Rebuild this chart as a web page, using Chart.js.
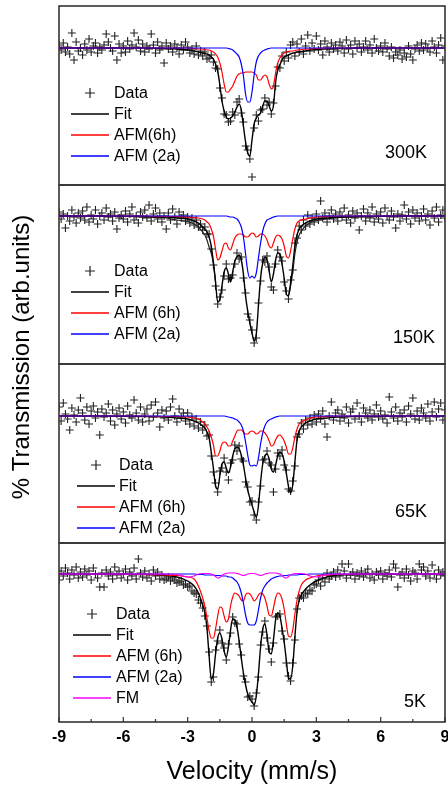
<!DOCTYPE html>
<html>
<head>
<meta charset="utf-8">
<script src="https://cdn.jsdelivr.net/npm/chart.js@4.4.1/dist/chart.umd.min.js"></script>
<style>
  html, body { margin: 0; padding: 0; background: #fff; }
  canvas { display: block; }
</style>
</head>
<body>
<canvas id="mossbauer" width="448" height="788"></canvas>
<script>
// ===== Velocity channels (mm/s) =====
const dataV = [
  -9.0, -8.9, -8.8, -8.7, -8.6, -8.5, -8.4, -8.3, -8.2, -8.1,
  -8.0, -7.9, -7.8, -7.7, -7.6, -7.5, -7.4, -7.3, -7.2, -7.1,
  -7.0, -6.9, -6.8, -6.7, -6.6, -6.5, -6.4, -6.3, -6.2, -6.1,
  -6.0, -5.9, -5.8, -5.7, -5.6, -5.5, -5.4, -5.3, -5.2, -5.1,
  -5.0, -4.9, -4.8, -4.7, -4.6, -4.5, -4.4, -4.3, -4.2, -4.1,
  -4.0, -3.9, -3.8, -3.7, -3.6, -3.5, -3.4, -3.3, -3.2, -3.1,
  -3.0, -2.9, -2.8, -2.7, -2.6, -2.5, -2.4, -2.3, -2.2, -2.1,
  -2.0, -1.9, -1.8, -1.7, -1.6, -1.5, -1.4, -1.3, -1.2, -1.1,
  -1.0, -0.9, -0.8, -0.7, -0.6, -0.5, -0.4, -0.3, -0.2, -0.1,
  0.0, 0.1, 0.2, 0.3, 0.4, 0.5, 0.6, 0.7, 0.8, 0.9,
  1.0, 1.1, 1.2, 1.3, 1.4, 1.5, 1.6, 1.7, 1.8, 1.9,
  2.0, 2.1, 2.2, 2.3, 2.4, 2.5, 2.6, 2.7, 2.8, 2.9,
  3.0, 3.1, 3.2, 3.3, 3.4, 3.5, 3.6, 3.7, 3.8, 3.9,
  4.0, 4.1, 4.2, 4.3, 4.4, 4.5, 4.6, 4.7, 4.8, 4.9,
  5.0, 5.1, 5.2, 5.3, 5.4, 5.5, 5.6, 5.7, 5.8, 5.9,
  6.0, 6.1, 6.2, 6.3, 6.4, 6.5, 6.6, 6.7, 6.8, 6.9,
  7.0, 7.1, 7.2, 7.3, 7.4, 7.5, 7.6, 7.7, 7.8, 7.9,
  8.0, 8.1, 8.2, 8.3, 8.4, 8.5, 8.6, 8.7, 8.8, 8.9,
  9.0
];

// velocities at which the fitted curves are tabulated
const curveV = [
  -9, -7, -5, -4, -3.5, -3, -2.7, -2.5, -2.3,
  -2.2, -2.1, -2.0, -1.9, -1.8, -1.7, -1.6, -1.5, -1.4, -1.3,
  -1.2, -1.1, -1.0, -0.9, -0.8, -0.7, -0.6, -0.5, -0.4, -0.3,
  -0.2, -0.1, 0, 0.1, 0.2, 0.3, 0.4, 0.5, 0.6, 0.7,
  0.8, 0.9, 1.0, 1.1, 1.2, 1.3, 1.4, 1.5, 1.6, 1.7,
  1.8, 1.9, 2.0, 2.1, 2.2,
  2.3, 2.5, 2.7, 3, 3.5, 4, 5, 7, 9
];

const temps = ['300K', '150K', '65K', '5K'];
const yMin = [86.3, 85.2, 87.3, 85.2];
const yMax = [104.2, 103.1, 105.2, 103.1];
const xTicks = [-9, -6, -3, 0, 3, 6, 9];

// ===== 300K =====
const p1Data = [
  100.3, 99.8, 100.5, 99.6, 100.1, 99.4, 101.5, 98.8, 100.6, 99.7,
  100.0, 99.3, 100.4, 99.8, 100.9, 99.6, 100.2, 100.5, 99.5, 100.1,
  99.8, 100.3, 101.4, 100.6, 100.0, 99.7, 101.2, 98.8, 100.4, 99.5,
  100.2, 99.6, 100.7, 99.9, 100.3, 101.5, 100.1, 100.8, 99.7, 100.4,
  99.6, 100.2, 99.9, 101.4, 100.3, 99.5, 100.6, 99.8, 100.2, 98.5,
  100.5, 99.9, 100.2, 99.6, 100.4, 100.0, 99.4, 100.3, 99.8, 100.6,
  100.1, 99.5, 99.9, 99.4, 100.2, 99.3, 99.7, 99.2, 99.6, 98.9,
  99.0, 99.3, 98.6, 98.0, 97.9, 96.0, 95.0, 93.4, 93.3, 92.6,
  92.7, 93.6, 93.3, 94.6, 94.9, 93.5, 92.6, 90.2, 89.8, 88.9,
  87.1, 92.0, 93.3, 92.7, 93.8, 93.9, 95.0, 94.3, 94.6, 93.4,
  94.5, 96.2, 98.1, 98.0, 99.2, 98.7, 99.6, 99.0, 100.3, 100.6,
  99.2, 100.4, 99.6, 100.9, 99.4, 100.2, 101.3, 99.7, 100.5, 99.9,
  101.2, 99.8, 100.4, 99.3, 100.7, 100.1, 99.6, 100.5, 99.9, 100.3,
  99.7, 100.6, 100.2, 99.5, 100.8, 99.9, 100.3, 99.4, 100.7, 100.0,
  100.4, 99.6, 100.1, 100.7, 99.8, 100.3, 99.5, 100.9, 100.0, 99.7,
  100.2, 99.6, 100.5, 99.9, 99.2, 100.1, 99.0, 99.6, 99.3, 99.8,
  98.9, 99.5, 99.1, 100.2, 99.4, 98.8, 99.9, 100.3, 99.7, 100.5,
  99.8, 100.4, 100.0, 99.6, 100.7, 100.1, 99.5, 100.3, 101.0, 98.8,
  100.2
];
const p1Fit = [
  100, 100, 100, 99.95, 99.9, 99.8, 99.7, 99.6, 99.5,
  99.45, 99.4, 99.3, 99.1, 98.9, 98.4, 97.7, 96.3, 94.7, 93.7,
  93.1, 92.9, 93.0, 93.2, 93.6, 94.1, 94.4, 93.8, 92.2, 90.6,
  89.5, 89.2, 90.8, 92.4, 93.0, 93.3, 93.5, 94.2, 94.7, 94.7,
  94.2, 93.7, 94.2, 96.6, 97.8, 98.3, 98.8, 99.1, 99.2, 99.3,
  99.4, 99.5, 99.5, 99.6, 99.6,
  99.65, 99.7, 99.8, 99.85, 99.9, 99.95, 100, 100, 100
];
const p1Red = [
  100, 100, 100, 100, 100, 100, 99.95, 99.9, 99.9,
  99.85, 99.8, 99.8, 99.7, 99.6, 99.4, 99.1, 98.5, 97.6, 96.4,
  95.6, 95.6, 95.9, 96.2, 96.7, 97.2, 97.4, 97.5, 97.5, 97.6,
  97.6, 97.6, 97.6, 97.5, 97.3, 96.8, 96.8, 97.1, 97.3, 97.1,
  96.4, 95.9, 96.2, 97.5, 98.5, 99.0, 99.3, 99.5, 99.6, 99.65,
  99.7, 99.7, 99.75, 99.8, 99.8,
  99.85, 99.9, 99.9, 99.95, 100, 100, 100, 100, 100
];
const p1Blue = [
  100, 100, 100, 100, 100, 100, 100, 100, 100,
  100, 100, 100, 100, 100, 100, 100, 100, 100, 100,
  100, 99.95, 99.9, 99.8, 99.6, 99.4, 99.1, 98.4, 97.2, 95.4,
  94.6, 94.6, 95.6, 97.3, 98.6, 99.2, 99.5, 99.7, 99.8, 99.9,
  99.95, 100, 100, 100, 100, 100, 100, 100, 100, 100,
  100, 100, 100, 100, 100,
  100, 100, 100, 100, 100, 100, 100, 100, 100
];

// ===== 150K =====
const p2Data = [
  100.4, 99.7, 100.2, 98.8, 100.0, 99.5, 100.6, 99.9, 99.3, 100.3,
  99.8, 100.5, 99.6, 100.9, 99.4, 100.1, 99.7, 100.6, 99.2, 100.0,
  100.3, 99.6, 100.8, 99.9, 100.2, 99.5, 100.4, 98.7, 99.8, 100.1,
  99.7, 100.5, 99.4, 100.2, 100.9, 99.6, 100.0, 99.3, 100.4, 99.9,
  100.6, 99.8, 101.1, 99.5, 100.2, 100.8, 99.7, 100.3, 99.4, 100.0,
  98.7, 100.3, 99.6, 100.7, 99.9, 99.2, 100.4, 99.8, 100.1, 99.5,
  99.9, 99.3, 99.8, 99.1, 99.6, 98.9, 99.2, 98.6, 98.9, 98.2,
  98.2, 96.7, 95.1, 93.0, 91.2, 91.9, 92.6, 94.0, 95.2, 93.7,
  93.8, 94.1, 95.2, 96.3, 95.7, 95.9, 93.8, 92.3, 90.2, 89.6,
  88.6, 87.3, 87.8, 91.3, 93.5, 95.6, 95.4, 96.0, 94.9, 92.9,
  92.6, 95.2, 96.6, 95.9, 95.5, 93.4, 92.5, 91.7, 93.6, 94.6,
  97.3, 97.8, 99.0, 98.6, 99.6, 99.0, 100.1, 99.2, 99.8, 99.4,
  100.2, 99.6, 101.5, 99.8, 100.3, 99.4, 100.0, 100.6, 99.7, 100.2,
  99.5, 100.4, 99.9, 100.8, 99.6, 100.1, 99.3, 100.5, 99.8, 100.3,
  98.6, 100.0, 100.7, 99.5, 100.3, 99.8, 100.9, 99.4, 100.2, 99.7,
  100.4, 99.3, 100.8, 100.0, 99.6, 100.5, 99.9, 98.8, 100.2, 99.5,
  100.1, 101.1, 99.7, 100.4, 99.2, 100.6, 99.8, 100.3, 99.5, 100.0,
  100.7, 99.6, 100.2, 99.1, 100.5, 99.8, 100.9, 99.4, 100.1, 100.6,
  99.8
];
const p2Fit = [
  100, 100, 99.95, 99.9, 99.8, 99.7, 99.5, 99.3, 98.9,
  98.7, 98.4, 97.9, 97.0, 95.4, 93.4, 91.4, 91.6, 93.0, 94.4,
  94.8, 94.2, 93.4, 94.4, 95.5, 95.9, 96.1, 95.6, 94.2, 92.0,
  90.5, 89.3, 88.3, 87.5, 88.2, 91.0, 93.8, 95.3, 95.9, 95.6,
  94.5, 93.4, 94.2, 95.6, 96.3, 96.2, 95.2, 93.8, 92.2, 92.0,
  93.3, 95.0, 97.0, 98.1, 98.7,
  99.0, 99.3, 99.5, 99.7, 99.8, 99.9, 99.95, 100, 100
];
// second fit envelope, only separate from the fit in the wings
const p2FitOuter = [
  100, 100, 99.9, 99.8, 99.6, 99.45, 99.2, 98.9, 98.4,
  98.1, 97.6, 96.9, 96.3, 95.2, 93.4, null, null, null, null,
  null, null, null, null, null, null, null, null, null, null,
  null, null, null, null, null, null, null, null, null, null,
  null, null, null, null, null, null, null, null, null, 92.0,
  93.0, 94.4, 96.2, 97.4, 98.1,
  98.5, 99.0, 99.3, 99.55, 99.7, 99.85, 99.9, 100, 100
];
const p2Red = [
  100, 100, 100, 99.95, 99.95, 99.9, 99.85, 99.8, 99.7,
  99.6, 99.4, 99.2, 98.7, 98.0, 96.7, 95.6, 95.8, 96.5, 97.2,
  97.3, 96.8, 96.6, 97.2, 97.8, 98.1, 98.2, 98.2, 98.1, 97.9,
  97.9, 98.1, 98.3, 98.2, 97.9, 98.0, 98.2, 98.2, 98.0, 97.6,
  97.0, 96.8, 97.3, 97.9, 98.1, 98.0, 97.7, 97.0, 96.0, 95.8,
  96.5, 97.7, 98.7, 99.3, 99.5,
  99.6, 99.7, 99.8, 99.9, 99.95, 100, 100, 100, 100
];
const p2Blue = [
  100, 100, 100, 100, 100, 100, 100, 100, 100,
  100, 100, 100, 100, 100, 100, 100, 100, 100, 100,
  100, 99.95, 99.9, 99.9, 99.8, 99.7, 99.4, 98.9, 97.9, 96.2,
  94.5, 93.8, 94.0, 93.8, 94.3, 95.8, 97.3, 98.5, 99.2, 99.6,
  99.7, 99.8, 99.9, 99.95, 100, 100, 100, 100, 100, 100,
  100, 100, 100, 100, 100,
  100, 100, 100, 100, 100, 100, 100, 100, 100
];

// ===== 65K =====
const p3Data = [
  100.9, 99.5, 101.3, 100.2, 99.7, 98.6, 100.8, 100.1, 99.4, 100.6,
  101.8, 100.3, 99.6, 100.9, 99.2, 100.5, 101.0, 99.8, 100.4, 98.1,
  100.7, 99.9, 100.3, 101.2, 99.5, 100.6, 99.1, 100.2, 100.8, 99.7,
  100.4, 99.3, 101.0, 100.1, 99.8, 101.6, 100.3, 99.6, 100.9, 99.4,
  100.2, 100.7, 99.5, 101.1, 99.9, 101.4, 100.3, 98.9, 100.6, 99.8,
  100.5, 99.6, 100.9, 101.7, 100.0, 99.4, 100.7, 99.9, 100.3, 99.5,
  100.3, 99.2, 99.9, 99.0, 99.7, 98.8, 99.4, 98.6, 99.1, 98.0,
  98.1, 96.0, 94.4, 93.3, 92.4, 94.5, 94.8, 95.8, 94.4, 93.6,
  95.3, 95.6, 97.1, 96.5, 97.0, 95.7, 95.5, 93.4, 92.9, 91.4,
  91.5, 90.1, 89.6, 91.4, 93.0, 95.6, 95.7, 96.5, 95.3, 95.1,
  92.4, 94.7, 96.3, 96.0, 96.6, 95.1, 94.6, 92.7, 92.5, 93.5,
  95.0, 97.9, 98.2, 99.3, 98.7, 99.6, 99.1, 99.8, 99.2, 100.1,
  99.4, 100.2, 99.7, 100.5, 99.2, 97.9, 100.0, 101.4, 99.6, 100.3,
  100.6, 99.5, 100.2, 99.8, 100.9, 99.3, 100.4, 100.7, 99.7, 101.3,
  100.0, 99.4, 100.8, 100.3, 99.8, 100.6, 99.6, 100.2, 101.1, 99.9,
  100.5, 99.7, 100.1, 99.3, 101.9, 100.4, 99.8, 100.9, 99.5, 100.3,
  99.9, 100.6, 99.4, 101.0, 100.2, 101.8, 99.7, 100.5, 99.6, 100.8,
  100.3, 99.8, 101.2, 99.5, 100.4, 101.4, 99.9, 100.7, 101.3, 99.6,
  100.6
];
const p3Fit = [
  100, 100, 99.95, 99.9, 99.8, 99.7, 99.5, 99.3, 99.0,
  98.8, 98.4, 97.8, 96.4, 94.8, 93.0, 92.7, 94.0, 95.2, 95.4,
  94.8, 94.3, 94.9, 96.0, 96.7, 96.9, 96.7, 96.1, 95.1, 93.8,
  92.6, 91.8, 91.1, 90.4, 89.9, 91.0, 93.4, 95.2, 96.0, 96.2,
  95.7, 94.7, 94.4, 95.1, 96.0, 96.4, 96.2, 95.5, 94.3, 93.0,
  92.3, 93.1, 95.4, 97.6, 98.5,
  98.9, 99.3, 99.5, 99.7, 99.8, 99.9, 99.95, 100, 100
];
const p3Red = [
  100, 100, 100, 99.95, 99.95, 99.9, 99.8, 99.7, 99.4,
  99.2, 98.9, 98.5, 97.9, 97.1, 96.0, 96.0, 96.5, 97.2, 97.4,
  97.3, 97.0, 97.0, 97.5, 98.0, 98.5, 98.6, 98.6, 98.4, 98.2,
  98.2, 98.4, 98.5, 98.4, 98.2, 98.3, 98.5, 98.5, 98.3, 98.0,
  97.5, 97.0, 97.1, 97.6, 98.0, 98.1, 97.9, 97.5, 96.9, 96.2,
  96.2, 96.8, 97.9, 98.7, 99.2,
  99.4, 99.6, 99.8, 99.9, 99.95, 100, 100, 100, 100
];
const p3Blue = [
  100, 100, 100, 100, 100, 100, 100, 100, 100,
  100, 100, 100, 100, 100, 100, 100, 100, 100, 100,
  99.95, 99.9, 99.85, 99.8, 99.7, 99.6, 99.4, 99.1, 98.5, 97.4,
  96.1, 95.1, 95.0, 95.1, 95.0, 95.8, 97.2, 98.3, 99.0, 99.4,
  99.6, 99.7, 99.8, 99.9, 99.95, 100, 100, 100, 100, 100,
  100, 100, 100, 100, 100,
  100, 100, 100, 100, 100, 100, 100, 100, 100
];

// ===== 5K =====
const p4Data = [
  99.4, 100.3, 99.8, 100.6, 100.1, 99.5, 100.4, 99.9, 100.7, 99.6,
  100.2, 99.7, 100.5, 99.9, 100.3, 99.4, 100.6, 100.0, 99.6, 98.7,
  100.1, 98.7, 100.4, 99.8, 100.2, 99.5, 100.7, 99.9, 100.3, 99.6,
  100.0, 100.5, 99.4, 100.2, 99.8, 100.6, 99.5, 101.5, 100.1, 99.7,
  100.3, 99.6, 100.0, 99.3, 100.4, 99.8, 100.2, 99.5, 99.9, 99.4,
  99.5, 99.7, 99.3, 99.6, 99.4, 99.1, 99.2, 99.3, 98.9, 99.0,
  98.7, 98.8, 98.3, 98.1, 98.0, 97.4, 97.1, 96.6, 95.8, 94.8,
  92.2, 89.2, 89.7, 92.4, 93.3, 94.4, 93.1, 92.6, 91.4, 93.0,
  94.1, 95.7, 95.1, 95.0, 93.0, 91.9, 89.8, 89.2, 87.7, 87.8,
  87.5, 86.8, 88.1, 89.7, 92.9, 94.2, 95.3, 93.6, 92.5, 91.2,
  93.1, 95.7, 95.8, 96.0, 94.3, 93.5, 91.1, 89.8, 89.3, 91.1,
  93.4, 96.5, 97.6, 97.8, 97.6, 98.1, 98.0, 98.4, 98.3, 98.9,
  99.0, 99.4, 98.8, 99.6, 99.2, 100.1, 99.5, 99.8, 100.2, 99.7,
  100.4, 99.8, 101.0, 100.3, 99.6, 101.0, 99.9, 100.2, 99.5, 100.1,
  99.8, 100.3, 99.7, 100.1, 100.5, 99.6, 100.0, 99.4, 100.2, 99.9,
  100.3, 99.5, 100.1, 99.8, 100.4, 99.7, 101.0, 100.6, 98.7, 99.9,
  100.2, 99.6, 100.5, 99.9, 99.3, 100.3, 100.1, 99.5, 101.0, 100.4,
  100.7, 99.8, 100.3, 99.6, 100.9, 100.0, 99.5, 100.4, 99.9, 100.2,
  99.8
];
const p4Fit = [
  100, 100, 99.95, 99.85, 99.7, 99.3, 98.8, 98.1, 96.9,
  96.2, 94.6, 91.8, 89.5, 90.0, 92.0, 93.6, 94.1, 93.5, 92.3,
  91.7, 92.7, 94.4, 95.5, 95.4, 94.7, 93.3, 91.6, 90.1, 88.9,
  88.0, 87.5, 87.2, 86.9, 87.8, 90.0, 92.7, 94.5, 95.0, 93.9,
  92.2, 92.0, 93.4, 95.4, 96.1, 95.8, 94.6, 93.2, 91.4, 89.6,
  89.5, 90.8, 93.7, 96.2, 97.4,
  97.9, 98.5, 98.9, 99.3, 99.7, 99.9, 99.95, 100, 100
];
const p4Red = [
  100, 100, 99.95, 99.9, 99.85, 99.7, 99.5, 98.8, 97.6,
  96.8, 95.6, 94.3, 93.6, 93.6, 94.5, 95.8, 96.7, 96.6, 95.8,
  95.2, 95.5, 96.8, 97.7, 98.1, 98.0, 97.8, 97.4, 97.3, 97.9,
  98.1, 98.0, 97.7, 97.3, 97.5, 97.9, 98.1, 98.0, 97.6, 96.8,
  95.9, 95.8, 96.6, 97.6, 98.1, 98.0, 97.5, 96.5, 95.0, 93.8,
  93.7, 94.4, 96.0, 97.4, 98.3,
  98.9, 99.4, 99.6, 99.8, 99.9, 99.95, 100, 100, 100
];
const p4Blue = [
  100, 100, 100, 100, 100, 100, 100, 99.95, 99.95,
  99.9, 99.9, 99.9, 99.9, 99.9, 99.85, 99.85, 99.85, 99.8, 99.8,
  99.8, 99.7, 99.7, 99.6, 99.4, 99.2, 98.8, 98.1, 97.1, 95.9,
  95.1, 94.9, 94.9, 94.9, 95.3, 96.4, 97.6, 98.4, 98.8, 99.1,
  99.3, 99.5, 99.6, 99.7, 99.75, 99.8, 99.8, 99.85, 99.85, 99.9,
  99.9, 99.9, 99.9, 99.9, 99.95,
  99.95, 99.95, 100, 100, 100, 100, 100, 100, 100
];
const p4FM = [
  100, 100, 100, 100, 99.95, 99.7, 99.8, 100, 100.05,
  100.05, 100.05, 100.05, 100, 99.9, 99.75, 99.6, 99.65, 99.85, 100,
  100.05, 100.1, 100.1, 100.1, 100.1, 100.05, 100, 99.9, 99.85, 99.9,
  100, 100.05, 100.05, 100.05, 100, 99.9, 99.85, 99.9, 100, 100.05,
  100.1, 100.1, 100.1, 100.1, 100.05, 100, 99.85, 99.65, 99.6, 99.75,
  99.9, 100, 100.05, 100.05, 100.05,
  100.05, 100, 99.8, 99.7, 99.95, 100, 100, 100, 100
];

// ===== Montagem dos datasets =====
const FONT = "'Liberation Sans', Arial, sans-serif";
const RED = '#ff0000', BLUE = '#0000ff', MAGENTA = '#ff00ff', BLACK = '#000000';
const panelKeys = ['y1', 'y2', 'y3', 'y4'];

const zip = (xs, ys) => xs.map((x, i) => ({ x: x, y: ys[i] }));

function points(label, ys, panel) {
  return {
    label, panel, inLegend: true,
    data: zip(dataV, ys), yAxisID: panelKeys[panel],
    showLine: false, pointStyle: 'cross', pointRadius: 4,
    pointBorderWidth: 1.1, pointBorderColor: '#222', borderColor: '#222',
    order: 10
  };
}

function curve(label, ys, color, width, panel, order, inLegend = true) {
  return {
    label, panel, inLegend,
    data: zip(curveV, ys), yAxisID: panelKeys[panel],
    borderColor: color, borderWidth: width, pointRadius: 0,
    cubicInterpolationMode: 'monotone', spanGaps: false, fill: false,
    order
  };
}

const datasets = [
  points('Data', p1Data, 0),
  curve('Fit', p1Fit, BLACK, 1.4, 0, 5),
  curve('AFM(6h)', p1Red, RED, 1.2, 0, 4),
  curve('AFM (2a)', p1Blue, BLUE, 1.2, 0, 3),

  points('Data', p2Data, 1),
  curve('Fit', p2Fit, BLACK, 1.4, 1, 5),
  curve('Fit', p2FitOuter, '#222', 1.2, 1, 6, false),
  curve('AFM (6h)', p2Red, RED, 1.2, 1, 4),
  curve('AFM (2a)', p2Blue, BLUE, 1.2, 1, 3),

  points('Data', p3Data, 2),
  curve('Fit', p3Fit, BLACK, 1.4, 2, 5),
  curve('AFM (6h)', p3Red, RED, 1.2, 2, 4),
  curve('AFM (2a)', p3Blue, BLUE, 1.2, 2, 3),

  points('Data', p4Data, 3),
  curve('Fit', p4Fit, BLACK, 1.4, 3, 5),
  curve('AFM (6h)', p4Red, RED, 1.2, 3, 4),
  curve('AFM (2a)', p4Blue, BLUE, 1.2, 3, 3),
  curve('FM', p4FM, MAGENTA, 1.2, 3, 2)
];

// posição das legendas e rótulos de temperatura em cada painel
const legendSpec = [
  { dx: 12, dy: 87, gap: 43, tx: 18, ty: 147 },
  { dx: 12, dy: 86, gap: 43, tx: 10, ty: 153 },
  { dx: 18, dy: 101, gap: 42, tx: 18, ty: 148 },
  { dx: 14, dy: 71, gap: 43, tx: 19, ty: 159 }
];

const panelPlugin = {
  id: 'panels',
  afterDatasetsDraw(chart) {
    const { ctx, chartArea } = chart;
    const { left, right, bottom } = chartArea;
    ctx.save();

    // legendas + temperatura
    panelKeys.forEach((key, p) => {
      const s = chart.scales[key];
      const spec = legendSpec[p];
      const x0 = left + spec.dx;
      let y = s.top + spec.dy;
      ctx.font = '16px ' + FONT;
      ctx.textBaseline = 'middle';
      ctx.textAlign = 'left';
      chart.data.datasets.forEach(ds => {
        if (ds.panel !== p || !ds.inLegend) return;
        if (ds.showLine === false) {
          const cx = x0 + 19;
          ctx.strokeStyle = '#222';
          ctx.lineWidth = 1.2;
          ctx.beginPath();
          ctx.moveTo(cx - 5, y); ctx.lineTo(cx + 5, y);
          ctx.moveTo(cx, y - 5); ctx.lineTo(cx, y + 5);
          ctx.stroke();
        } else {
          ctx.strokeStyle = ds.borderColor;
          ctx.lineWidth = 1.3;
          ctx.beginPath();
          ctx.moveTo(x0, y); ctx.lineTo(x0 + 38, y);
          ctx.stroke();
        }
        ctx.fillStyle = '#000';
        ctx.fillText(ds.label, x0 + spec.gap, y + 1);
        y += 21;
      });

      ctx.font = '18px ' + FONT;
      ctx.textAlign = 'right';
      ctx.fillText(temps[p], right - spec.tx, s.top + spec.ty);
    });

    // molduras dos painéis
    ctx.strokeStyle = '#333';
    ctx.lineWidth = 1.6;
    panelKeys.forEach(key => {
      const s = chart.scales[key];
      ctx.strokeRect(left, s.top, right - left, s.bottom - s.top);
    });

    // ticks para dentro no eixo de velocidade
    const xs = chart.scales.x;
    ctx.lineWidth = 1.2;
    ctx.beginPath();
    xTicks.forEach(v => {
      const px = xs.getPixelForValue(v);
      ctx.moveTo(px, bottom); ctx.lineTo(px, bottom - 5);
      if (v < 9) {
        const pm = xs.getPixelForValue(v + 1.5);
        ctx.moveTo(pm, bottom); ctx.lineTo(pm, bottom - 3);
      }
    });
    ctx.stroke();

    // título do eixo y
    ctx.font = '24px ' + FONT;
    ctx.fillStyle = '#000';
    ctx.textAlign = 'center';
    ctx.textBaseline = 'middle';
    ctx.translate(22, 357);
    ctx.rotate(-Math.PI / 2);
    ctx.fillText('% Transmission (arb.units)', 0, 0);
    ctx.restore();
  }
};

const scales = {
  x: {
    type: 'linear', position: 'bottom', min: -9, max: 9,
    grid: { display: false, drawTicks: false },
    border: { display: false },
    afterBuildTicks: s => { s.ticks = xTicks.map(v => ({ value: v })); },
    afterFit: s => { s.height = 66; s.paddingLeft = 0; s.paddingRight = 0; },
    ticks: {
      padding: 6, color: '#000', maxRotation: 0, autoSkip: false,
      font: { family: FONT, size: 16, weight: 'bold' }
    },
    title: {
      display: true, text: 'Velocity (mm/s)', color: '#000',
      font: { family: FONT, size: 25 }, padding: { top: 0, bottom: 1 }
    }
  }
};
panelKeys.forEach((key, p) => {
  scales[key] = {
    type: 'linear', position: 'left', stack: 'panels', stackWeight: 1,
    weight: 4 - p, min: yMin[p], max: yMax[p],
    grid: { display: false, drawTicks: false },
    border: { display: false },
    ticks: { display: false },
    afterFit: s => { s.width = 0; s.paddingTop = 0; s.paddingBottom = 0; }
  };
});

new Chart(document.getElementById('mossbauer'), {
  type: 'line',
  data: { datasets },
  options: {
    responsive: false,
    devicePixelRatio: 1,
    animation: false,
    events: [],
    layout: { autoPadding: false, padding: { left: 59, right: 3, top: 6, bottom: 0 } },
    plugins: { legend: { display: false }, tooltip: { enabled: false } },
    scales
  },
  plugins: [panelPlugin]
});
</script>
</body>
</html>
